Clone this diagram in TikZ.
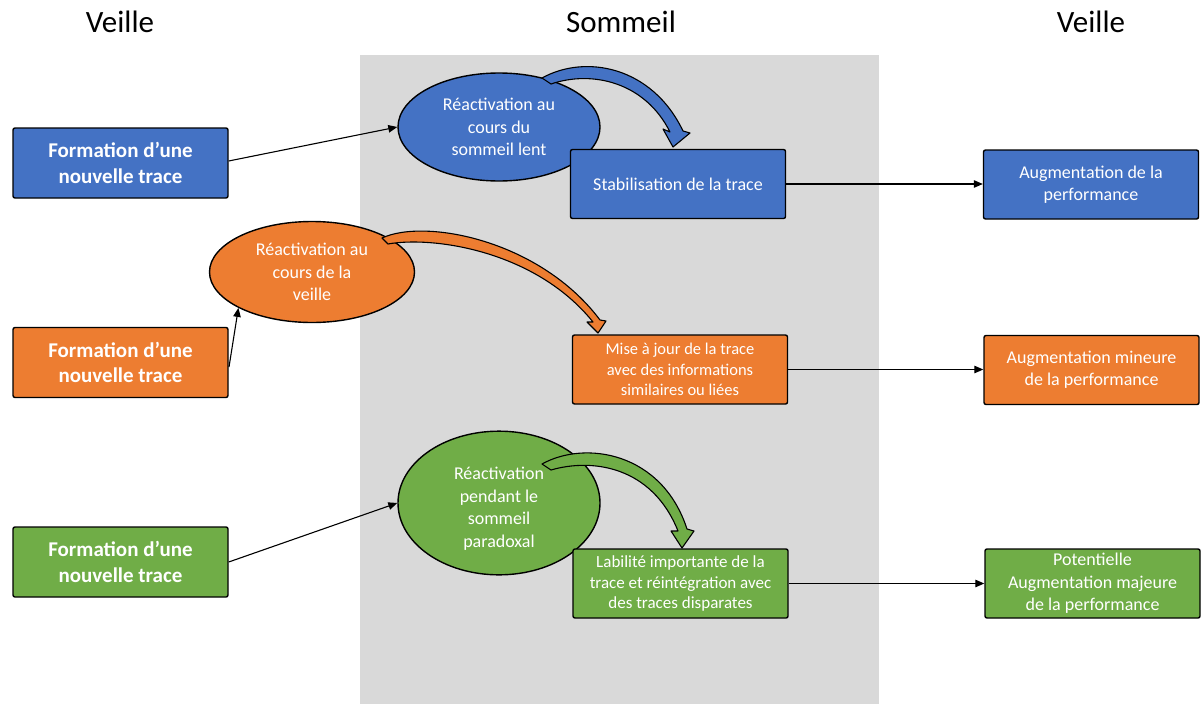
\documentclass[tikz,border=0pt]{standalone}
\usepackage{fontspec}
\setmainfont{Carlito}
\usetikzlibrary{arrows.meta,shapes.geometric}
\definecolor{cblue}{HTML}{4472C4}
\definecolor{corange}{HTML}{ED7D31}
\definecolor{cgreen}{HTML}{70AD47}
\definecolor{cband}{HTML}{D9D9D9}
\tikzset{
  head/.style={font=\fontsize{31}{36}\selectfont, text=black},
  box/.style={rectangle, draw=black, line width=1.4pt, rounded corners=2pt, text=white, align=center, inner sep=2pt},
  formbox/.style={box, minimum width=215pt, minimum height=70pt, font=\bfseries\fontsize{21}{25.6}\selectfont},
  midbox/.style={box, minimum width=215pt, minimum height=69pt},
  resbox/.style={box, minimum width=215pt, minimum height=69pt, font=\fontsize{18}{22.4}\selectfont},
  oval/.style={ellipse, draw=black, line width=1.4pt, text=white, align=center, inner sep=0pt, font=\fontsize{18}{22.4}\selectfont},
  conn/.style={draw=black, line width=1.1pt, -{Triangle[length=9pt,width=7.5pt]}},
  blockarrow/.style={draw=black, line width=1.1pt, line join=round}
}
\begin{document}
\begin{tikzpicture}[x=1pt,y=-1pt]
\useasboundingbox (0,0) rectangle (1201,704);
\fill[cband] (360,55) rectangle (879,704);

\node[head] (h1) at (120,22) {Veille};
\node[head] (h2) at (621,22) {Sommeil};
\node[head] (h3) at (1091,22) {Veille};

% blue row
\node[formbox, fill=cblue] (f1) at (120.5,163) {Formation d’une\\nouvelle trace};
\node[oval, fill=cblue, minimum width=202pt, minimum height=108pt] (e1) at (499,127) {Réactivation au\\cours du\\sommeil lent};
\node[midbox, fill=cblue, font=\fontsize{18}{22.4}\selectfont] (m1) at (678,184) {Stabilisation de la trace};
\node[resbox, fill=cblue] (r1) at (1091,184.5) {Augmentation de la\\performance};

% orange row
\node[formbox, fill=corange] (f2) at (120.5,362.5) {Formation d’une\\nouvelle trace};
\node[oval, fill=corange, minimum width=205pt, minimum height=101pt] (e2) at (312,272) {Réactivation au\\cours de la\\veille};
\node[midbox, fill=corange, font=\fontsize{16.5}{20.3}\selectfont] (m2) at (680,369.5) {Mise à jour de la trace\\avec des informations\\similaires ou liées};
\node[resbox, fill=corange] (r2) at (1091.5,370) {Augmentation mineure\\de la performance};

% green row
\node[formbox, fill=cgreen] (f3) at (120.5,562) {Formation d’une\\nouvelle trace};
\node[oval, fill=cgreen, minimum width=202pt, minimum height=112pt] (e3) at (499,503) {\raisebox{0pt}[\dimexpr\height+12pt\relax][\depth]{\begin{tabular}{@{}c@{}}Réactivation\\pendant le\\sommeil\\paradoxal\end{tabular}}};
\node[midbox, fill=cgreen, font=\fontsize{17}{20.7}\selectfont] (m3) at (680.5,583.5) {Labilité importante de la\\trace et réintégration avec\\des traces disparates};
\node[resbox, fill=cgreen] (r3) at (1092.5,583.5) {Potentielle\\Augmentation majeure\\de la performance};

% connectors
\draw[conn] (f1.east) ++(0,-2) coordinate (a1) -- (e1.west);
\draw[conn] (m1.east) -- (r1.west |- m1.east);
\coordinate (a2) at (229,367);
\draw[conn] (a2) -- (e2.206);
\draw[conn] (m2.east) -- (r2.west |- m2.east);
\draw[conn] (f3.east) -- (e3.west);
\draw[conn] (m3.east) -- (r3.west |- m3.east);

% curved block arrows
\filldraw[blockarrow, fill=cblue] (542,78) .. controls (585,54) and (652,66) .. (683,131)
  -- (690,133) -- (673,147) -- (663,129) -- (670,132)
  .. controls (645,82) and (592,70) .. (551,84) -- cycle;
\filldraw[blockarrow, fill=corange] (382,238) .. controls (425,218) and (540,240) .. (600,320)
  -- (606,321) -- (598,333) -- (587,322) -- (593,322)
  .. controls (535,250) and (432,236) .. (388,244) -- cycle;
\filldraw[blockarrow, fill=cgreen] (542,464) .. controls (585,440) and (662,452) .. (687,529)
  -- (694,531) -- (682,548) -- (671,531) -- (678,531)
  .. controls (652,466) and (592,458) .. (551,470) -- cycle;
\end{tikzpicture}
\end{document}
